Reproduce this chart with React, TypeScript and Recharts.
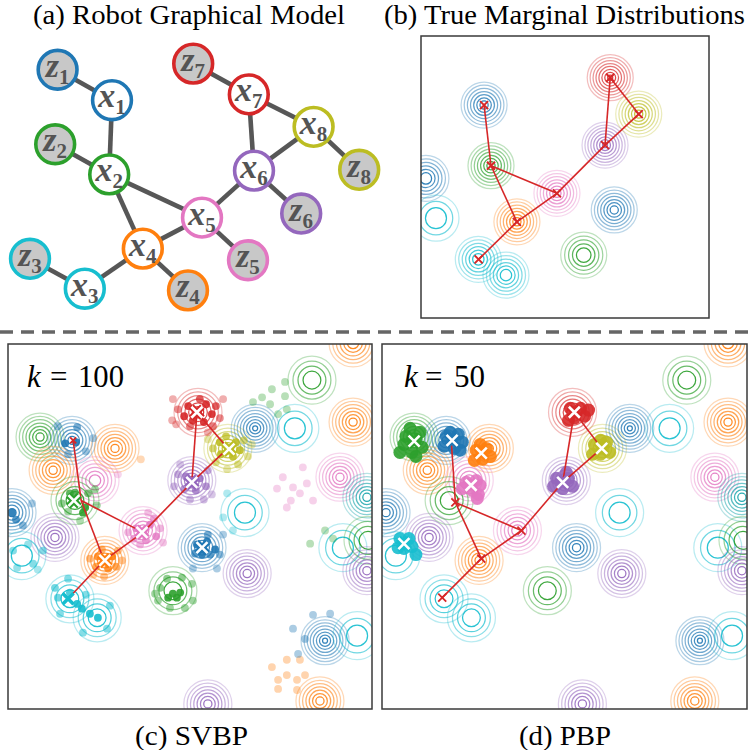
import React from 'react';
import { ScatterChart, Scatter, XAxis, YAxis } from 'recharts';

const SERIF = '"Times New Roman", Times, serif';

const PALETTE: Record<string, string> = {
  blue: '#1f77b4', orange: '#ff7f0e', green: '#2ca02c', red: '#d62728',
  purple: '#9467bd', pink: '#e377c2', olive: '#bcbd22', cyan: '#17becf', teal: '#15a3aa',
};
const VAR_COLOR: Record<string, string> = {
  x1: 'blue', x2: 'green', x3: 'cyan', x4: 'orange', x5: 'pink', x6: 'purple', x7: 'red', x8: 'olive',
};

// ---------- (a) graphical model ----------
const graphNodes = [
  { id: 'z1', x: 14.4, y: 13.7 }, { id: 'x1', x: 28.0, y: 24.2 },
  { id: 'z2', x: 13.8, y: 39.4 }, { id: 'x2', x: 27.3, y: 49.8 },
  { id: 'x5', x: 50.5, y: 64.7 }, { id: 'x4', x: 35.7, y: 75.4 },
  { id: 'z3', x: 7.5, y: 78.9 }, { id: 'x3', x: 21.2, y: 89.2 },
  { id: 'z4', x: 47.0, y: 89.8 }, { id: 'z5', x: 62.0, y: 79.4 },
  { id: 'z7', x: 48.3, y: 11.6 }, { id: 'x7', x: 62.2, y: 22.2 },
  { id: 'x8', x: 78.4, y: 33.4 }, { id: 'x6', x: 63.5, y: 48.5 },
  { id: 'z6', x: 75.3, y: 63.3 }, { id: 'z8', x: 89.8, y: 48.2 },
];
const graphEdges: [string, string][] = [
  ['z1', 'x1'], ['x1', 'x2'], ['z2', 'x2'], ['x2', 'x4'], ['x2', 'x5'], ['x4', 'x5'],
  ['x3', 'x4'], ['z3', 'x3'], ['x4', 'z4'], ['x5', 'z5'], ['x5', 'x6'], ['x6', 'z6'],
  ['x6', 'x7'], ['x6', 'x8'], ['x7', 'x8'], ['z7', 'x7'], ['x8', 'z8'],
];
const varEdges: [string, string][] = [
  ['x1', 'x2'], ['x2', 'x4'], ['x2', 'x5'], ['x3', 'x4'], ['x4', 'x5'],
  ['x5', 'x6'], ['x6', 'x7'], ['x6', 'x8'], ['x7', 'x8'],
];

// ---------- (b) true marginals ----------
const trueContours = [
  { c: 'blue', x: 21.9, y: 24.5, n: 7 }, { c: 'green', x: 24.3, y: 46.0, n: 7 },
  { c: 'orange', x: 33.3, y: 65.9, n: 7 }, { c: 'cyan', x: 19.9, y: 79.2, n: 6 },
  { c: 'cyan', x: 29.5, y: 84.8, n: 6 }, { c: 'pink', x: 47.2, y: 55.8, n: 7 },
  { c: 'purple', x: 63.9, y: 38.7, n: 8 }, { c: 'red', x: 65.7, y: 14.8, n: 8 },
  { c: 'olive', x: 75.6, y: 27.7, n: 7 }, { c: 'blue', x: 1.7, y: 50.5, n: 6 },
  { c: 'cyan', x: 5.2, y: 64.6, n: 3 }, { c: 'blue', x: 67.1, y: 61.7, n: 7 },
  { c: 'green', x: 56.5, y: 77.7, n: 5 },
];
const trueEstimates = [
  { id: 'x1', x: 21.9, y: 24.5 }, { id: 'x2', x: 24.3, y: 46.0 },
  { id: 'x3', x: 20.0, y: 79.2 }, { id: 'x4', x: 33.3, y: 65.9 },
  { id: 'x5', x: 47.2, y: 55.8 }, { id: 'x6', x: 63.9, y: 38.7 },
  { id: 'x7', x: 65.7, y: 14.8 }, { id: 'x8', x: 75.6, y: 27.7 },
];

// ---------- (c)/(d) shared marginal contours ----------
const marginalContours = [
  { c: 'green', x: 8.8, y: 25.5, n: 7 }, { c: 'blue', x: 17.6, y: 26.4, n: 7 },
  { c: 'orange', x: 29.4, y: 28.6, n: 7 }, { c: 'orange', x: 12.4, y: 34.6, n: 7 },
  { c: 'pink', x: 23.9, y: 37.4, n: 6 }, { c: 'green', x: 18.4, y: 42.9, n: 4 },
  { c: 'blue', x: 1.1, y: 46.2, n: 7 }, { c: 'purple', x: 12.9, y: 53.0, n: 7 },
  { c: 'cyan', x: 3.8, y: 58.0, n: 3 }, { c: 'orange', x: 26.6, y: 59.3, n: 7 },
  { c: 'pink', x: 37.1, y: 51.1, n: 6 }, { c: 'cyan', x: 17.0, y: 69.8, n: 4 },
  { c: 'cyan', x: 24.5, y: 75.0, n: 4 }, { c: 'green', x: 45.3, y: 67.6, n: 4 },
  { c: 'blue', x: 53.3, y: 55.8, n: 7 }, { c: 'purple', x: 65.7, y: 62.9, n: 7 },
  { c: 'cyan', x: 65.1, y: 46.2, n: 3 }, { c: 'purple', x: 50.5, y: 37.4, n: 7 },
  { c: 'red', x: 52.2, y: 18.7, n: 6 }, { c: 'olive', x: 60.4, y: 28.6, n: 6 },
  { c: 'blue', x: 67.9, y: 23.1, n: 8 }, { c: 'cyan', x: 78.8, y: 23.1, n: 3 },
  { c: 'green', x: 83.5, y: 9.9, n: 4 }, { c: 'orange', x: 94.8, y: 21.4, n: 7 },
  { c: 'orange', x: 94.8, y: -0.3, n: 6 }, { c: 'pink', x: 91.2, y: 36.5, n: 7 },
  { c: 'teal', x: 98.6, y: 42.0, n: 7 }, { c: 'cyan', x: 92.0, y: 55.8, n: 3 },
  { c: 'green', x: 98.9, y: 53.8, n: 4 }, { c: 'purple', x: 98.6, y: 62.1, n: 7 },
  { c: 'blue', x: 87.1, y: 81.3, n: 8 }, { c: 'cyan', x: 95.9, y: 79.9, n: 3 },
  { c: 'orange', x: 85.7, y: 97.8, n: 7 }, { c: 'purple', x: 54.9, y: 98.6, n: 7 },
];

// ---------- (c) SVBP ----------
const svbpEstimates = [
  { id: 'x1', x: 17.9, y: 26.4 }, { id: 'x2', x: 20.1, y: 42.9 },
  { id: 'x3', x: 16.5, y: 69.8 }, { id: 'x4', x: 26.4, y: 59.3 },
  { id: 'x5', x: 37.1, y: 51.6 }, { id: 'x6', x: 50.5, y: 37.9 },
  { id: 'x7', x: 51.9, y: 18.7 }, { id: 'x8', x: 60.4, y: 28.6 },
];
const svbpMeans = [
  { c: 'green', x: 18.1, y: 42.9 }, { c: 'orange', x: 26.6, y: 59.3 },
  { c: 'pink', x: 36.8, y: 51.6 }, { c: 'purple', x: 50.5, y: 37.9 },
  { c: 'red', x: 51.9, y: 18.7 }, { c: 'olive', x: 60.7, y: 28.8 },
  { c: 'blue', x: 53.3, y: 55.8 },
];
const svbpSolidMarks = [{ c: 'cyan', x: 16.5, y: 69.8 }];
const svbpRedMarks = [{ x: 17.9, y: 26.4 }];

const svbpBlue = [
  { x: 15.7, y: 27.2, w: 1 }, { x: 18.7, y: 26.9, w: 1 }, { x: 19.0, y: 22.8, w: 0.6 },
  { x: 13.7, y: 22.5, w: 0.4 }, { x: 23.4, y: 25.8, w: 0.3 }, { x: 16.5, y: 30.2, w: 0.4 },
  { x: 21.4, y: 29.4, w: 0.4 },
  { x: 51.9, y: 54.9, w: 1 }, { x: 54.7, y: 54.1, w: 1 }, { x: 56.9, y: 56.3, w: 1 },
  { x: 53.3, y: 57.7, w: 1 }, { x: 55.5, y: 57.7, w: 0.8 }, { x: 51.4, y: 57.4, w: 0.8 },
  { x: 54.9, y: 52.2, w: 0.6 }, { x: 58.2, y: 57.7, w: 0.5 }, { x: 50.8, y: 61.5, w: 0.3 },
  { x: 57.4, y: 61.5, w: 0.3 }, { x: 59.1, y: 52.2, w: 0.3 },
  { x: 1.1, y: 46.2, w: 1 }, { x: 2.2, y: 48.1, w: 0.8 }, { x: 4.1, y: 49.7, w: 0.5 },
  { x: 6.6, y: 43.7, w: 0.3 },
  { x: 83.8, y: 74.2, w: 0.3 }, { x: 88.5, y: 73.9, w: 0.3 }, { x: 78.3, y: 78.0, w: 0.3 },
  { x: 81.6, y: 80.8, w: 0.35 }, { x: 79.7, y: 84.9, w: 0.3 },
];
const svbpGreen = [
  { x: 17.0, y: 40.9, w: 0.8 }, { x: 22.0, y: 40.9, w: 0.6 }, { x: 21.2, y: 44.8, w: 1 },
  { x: 20.6, y: 46.2, w: 1 }, { x: 14.8, y: 43.7, w: 0.5 }, { x: 24.4, y: 44.2, w: 0.4 },
  { x: 18.4, y: 40.7, w: 0.8 }, { x: 23.9, y: 39.8, w: 0.4 }, { x: 16.5, y: 45.9, w: 0.4 },
  { x: 19.8, y: 48.4, w: 0.3 }, { x: 18.1, y: 42.9, w: 0.9 },
  { x: 45.3, y: 68.4, w: 1 }, { x: 47.3, y: 68.1, w: 1 }, { x: 44.0, y: 69.5, w: 1 },
  { x: 46.4, y: 69.5, w: 1 }, { x: 41.8, y: 66.8, w: 0.5 }, { x: 43.7, y: 64.3, w: 0.5 },
  { x: 47.8, y: 64.0, w: 0.5 }, { x: 50.5, y: 65.7, w: 0.4 }, { x: 50.8, y: 70.3, w: 0.4 },
  { x: 41.2, y: 70.3, w: 0.4 }, { x: 44.5, y: 72.3, w: 0.4 }, { x: 48.6, y: 72.3, w: 0.4 },
  { x: 40.4, y: 68.4, w: 0.4 },
  { x: 67.3, y: 15.9, w: 0.25 }, { x: 69.8, y: 14.6, w: 0.25 }, { x: 72.5, y: 12.4, w: 0.25 },
  { x: 76.1, y: 10.4, w: 0.25 }, { x: 76.1, y: 14.3, w: 0.25 }, { x: 76.6, y: 17.9, w: 0.25 },
  { x: 74.2, y: 19.2, w: 0.25 }, { x: 72.0, y: 16.5, w: 0.25 },
  { x: 87.1, y: 51.1, w: 0.25 }, { x: 89.3, y: 53.3, w: 0.25 }, { x: 83.0, y: 54.7, w: 0.25 },
];
const svbpRed = [
  { x: 52.2, y: 18.7, w: 1 }, { x: 49.5, y: 17.0, w: 1 }, { x: 54.4, y: 16.5, w: 1 },
  { x: 56.0, y: 19.2, w: 1 }, { x: 50.8, y: 20.9, w: 1 }, { x: 53.8, y: 21.4, w: 1 },
  { x: 48.4, y: 19.8, w: 1 }, { x: 57.1, y: 17.0, w: 0.8 }, { x: 52.7, y: 15.1, w: 0.8 },
  { x: 50.0, y: 22.5, w: 0.6 }, { x: 56.3, y: 22.5, w: 0.6 }, { x: 46.7, y: 17.9, w: 0.5 },
  { x: 58.2, y: 20.3, w: 0.5 }, { x: 46.2, y: 22.0, w: 0.3 }, { x: 59.1, y: 15.1, w: 0.3 },
  { x: 45.3, y: 15.1, w: 0.3 }, { x: 54.9, y: 24.2, w: 0.3 }, { x: 45.1, y: 20.9, w: 0.3 },
];
const svbpOlive = [
  { x: 60.4, y: 28.6, w: 1 }, { x: 58.2, y: 26.9, w: 1 }, { x: 62.6, y: 26.9, w: 1 },
  { x: 61.8, y: 30.8, w: 1 }, { x: 58.5, y: 30.2, w: 1 }, { x: 63.7, y: 29.1, w: 1 },
  { x: 59.9, y: 25.3, w: 0.8 }, { x: 64.8, y: 26.4, w: 0.6 }, { x: 56.3, y: 28.6, w: 0.6 },
  { x: 57.1, y: 32.4, w: 0.5 }, { x: 63.2, y: 33.0, w: 0.5 }, { x: 65.9, y: 30.8, w: 0.4 },
  { x: 60.2, y: 34.3, w: 0.3 }, { x: 67.0, y: 27.5, w: 0.3 }, { x: 54.9, y: 26.1, w: 0.3 },
];
const svbpPurple = [
  { x: 50.5, y: 37.9, w: 1 }, { x: 48.9, y: 36.3, w: 0.9 }, { x: 52.7, y: 36.8, w: 0.9 },
  { x: 51.6, y: 40.1, w: 0.8 }, { x: 48.4, y: 39.8, w: 0.7 }, { x: 54.4, y: 39.0, w: 0.7 },
  { x: 46.7, y: 35.7, w: 0.5 }, { x: 54.9, y: 34.6, w: 0.5 }, { x: 45.6, y: 39.0, w: 0.4 },
  { x: 50.0, y: 42.6, w: 0.4 }, { x: 53.8, y: 42.6, w: 0.4 }, { x: 56.0, y: 41.2, w: 0.3 },
  { x: 47.3, y: 33.0, w: 0.3 },
];
const svbpPink = [
  { x: 37.1, y: 51.6, w: 1 }, { x: 39.0, y: 49.5, w: 1 }, { x: 35.2, y: 50.5, w: 0.9 },
  { x: 40.7, y: 52.7, w: 0.9 }, { x: 37.9, y: 53.8, w: 0.8 }, { x: 34.6, y: 53.3, w: 0.7 },
  { x: 40.1, y: 47.8, w: 0.7 }, { x: 41.8, y: 50.5, w: 0.5 }, { x: 33.0, y: 51.6, w: 0.5 },
  { x: 36.3, y: 54.9, w: 0.5 }, { x: 42.6, y: 54.4, w: 0.4 }, { x: 38.5, y: 46.2, w: 0.4 },
  { x: 75.5, y: 36.5, w: 0.25 }, { x: 78.3, y: 39.3, w: 0.25 }, { x: 81.0, y: 33.8, w: 0.25 },
  { x: 83.8, y: 42.9, w: 0.25 }, { x: 76.6, y: 44.8, w: 0.25 }, { x: 73.9, y: 39.6, w: 0.25 },
  { x: 80.2, y: 40.9, w: 0.25 }, { x: 82.1, y: 38.2, w: 0.25 }, { x: 77.7, y: 42.9, w: 0.25 },
  { x: 30.2, y: 35.7, w: 0.2 },
];
const svbpOrange = [
  { x: 26.6, y: 59.3, w: 1 }, { x: 28.6, y: 58.2, w: 1 }, { x: 24.7, y: 58.2, w: 0.9 },
  { x: 27.5, y: 61.5, w: 0.9 }, { x: 29.7, y: 61.0, w: 0.7 }, { x: 24.2, y: 61.0, w: 0.7 },
  { x: 25.8, y: 56.3, w: 0.6 }, { x: 30.2, y: 56.6, w: 0.5 }, { x: 22.5, y: 58.8, w: 0.5 },
  { x: 26.4, y: 63.7, w: 0.4 }, { x: 31.3, y: 59.3, w: 0.4 }, { x: 23.4, y: 63.2, w: 0.3 },
  { x: 72.5, y: 88.5, w: 0.25 }, { x: 76.6, y: 86.5, w: 0.25 }, { x: 80.2, y: 86.5, w: 0.25 },
  { x: 74.2, y: 92.0, w: 0.25 }, { x: 76.6, y: 90.7, w: 0.25 }, { x: 79.4, y: 92.0, w: 0.25 },
  { x: 81.6, y: 90.7, w: 0.25 }, { x: 74.2, y: 94.5, w: 0.25 }, { x: 79.4, y: 94.8, w: 0.25 },
  { x: 36.5, y: 31.6, w: 0.2 },
];
const svbpCyan = [
  { x: 12.9, y: 66.8, w: 0.6 }, { x: 16.5, y: 64.3, w: 0.5 }, { x: 13.7, y: 69.5, w: 0.6 },
  { x: 19.0, y: 71.2, w: 1 }, { x: 20.3, y: 72.5, w: 1 }, { x: 22.5, y: 73.9, w: 1 },
  { x: 24.7, y: 75.0, w: 1 }, { x: 28.0, y: 71.7, w: 0.5 }, { x: 27.2, y: 78.0, w: 0.5 },
  { x: 20.6, y: 79.1, w: 0.5 }, { x: 14.3, y: 73.9, w: 0.5 }, { x: 17.0, y: 68.1, w: 0.8 },
  { x: 21.4, y: 68.7, w: 0.5 },
  { x: 1.4, y: 56.6, w: 0.5 }, { x: 6.9, y: 60.2, w: 0.5 }, { x: 9.6, y: 56.6, w: 0.5 },
  { x: 2.5, y: 61.3, w: 0.4 }, { x: 5.5, y: 54.9, w: 0.4 }, { x: 8.2, y: 61.8, w: 0.3 },
  { x: 60.2, y: 40.9, w: 0.25 }, { x: 59.1, y: 47.5, w: 0.25 }, { x: 61.8, y: 51.1, w: 0.25 },
];

// ---------- (d) PBP ----------
const pbpEstimates = [
  { id: 'x1', x: 19.0, y: 26.9 }, { id: 'x2', x: 20.1, y: 43.4 },
  { id: 'x3', x: 16.5, y: 69.5 }, { id: 'x4', x: 27.2, y: 58.8 },
  { id: 'x5', x: 38.2, y: 51.1 }, { id: 'x6', x: 49.5, y: 37.9 },
  { id: 'x7', x: 52.7, y: 18.7 }, { id: 'x8', x: 60.2, y: 28.6 },
];
const pbpMeans = [
  { c: 'green', x: 8.8, y: 26.6 }, { c: 'blue', x: 19.2, y: 26.4 },
  { c: 'orange', x: 27.2, y: 29.9 }, { c: 'pink', x: 24.4, y: 38.7 },
  { c: 'red', x: 52.7, y: 18.7 }, { c: 'olive', x: 60.2, y: 28.6 },
  { c: 'purple', x: 49.5, y: 37.9 }, { c: 'cyan', x: 6.0, y: 54.7 },
];
const pbpRedMarks = [
  { x: 20.1, y: 43.4 }, { x: 16.5, y: 69.5 }, { x: 27.2, y: 58.8 }, { x: 38.2, y: 51.1 },
];
const pbpGreen = [
  { x: 7.7, y: 23.1 }, { x: 6.0, y: 27.5 }, { x: 9.3, y: 26.1 }, { x: 11.0, y: 28.3 },
  { x: 8.2, y: 29.7 }, { x: 6.6, y: 25.3 }, { x: 10.4, y: 24.2 }, { x: 4.9, y: 29.7 },
  { x: 9.3, y: 30.8 },
];
const pbpBlue = [
  { x: 17.6, y: 25.3 }, { x: 20.9, y: 24.7 }, { x: 17.0, y: 28.0 }, { x: 19.8, y: 28.6 },
  { x: 22.0, y: 26.9 }, { x: 18.7, y: 24.2 }, { x: 21.4, y: 29.1 },
];
const pbpOrange = [
  { x: 25.8, y: 29.1 }, { x: 28.6, y: 28.6 }, { x: 27.5, y: 31.6 }, { x: 25.3, y: 31.9 },
  { x: 29.7, y: 30.8 }, { x: 26.9, y: 27.5 },
];
const pbpPink = [
  { x: 23.1, y: 37.9 }, { x: 25.8, y: 37.4 }, { x: 24.7, y: 40.1 }, { x: 22.0, y: 39.6 },
  { x: 26.4, y: 41.2 }, { x: 26.9, y: 38.7 }, { x: 26.1, y: 42.3 },
];
const pbpRed = [
  { x: 51.6, y: 17.6 }, { x: 54.4, y: 17.6 }, { x: 52.7, y: 20.3 }, { x: 55.5, y: 19.8 },
  { x: 51.1, y: 20.9 }, { x: 56.6, y: 18.1 },
];
const pbpOlive = [
  { x: 58.2, y: 27.5 }, { x: 61.5, y: 26.9 }, { x: 59.9, y: 30.2 }, { x: 57.7, y: 30.2 },
  { x: 62.4, y: 29.7 }, { x: 59.9, y: 26.4 },
];
const pbpPurple = [
  { x: 47.8, y: 36.8 }, { x: 51.1, y: 36.8 }, { x: 49.5, y: 39.6 }, { x: 47.0, y: 39.0 },
  { x: 52.2, y: 39.0 }, { x: 50.5, y: 35.2 },
];
const pbpCyan = [
  { x: 4.9, y: 53.3 }, { x: 7.4, y: 53.3 }, { x: 6.0, y: 56.0 }, { x: 8.2, y: 55.5 },
  { x: 4.4, y: 55.8 }, { x: 9.3, y: 57.7 },
];

// ---------- shapes ----------
const Empty = () => <g />;

const makeContour = (R: number) => (p: any) => {
  const { cx, cy, payload } = p;
  const col = PALETTE[payload.c];
  const n = payload.n;
  const rIn = 2.5 + (8 - n) * 1.6;
  const rings = [];
  for (let i = 0; i < n; i++) {
    const t = n === 1 ? 0 : i / (n - 1);
    rings.push(
      <circle key={i} cx={cx} cy={cy} r={rIn + (R - rIn) * t} fill="none" stroke={col}
        strokeWidth={1.25} strokeOpacity={0.92 - 0.62 * t} />
    );
  }
  return <g>{rings}</g>;
};

const makeDot = (col: string, r: number) => (p: any) => {
  const w = p.payload.w == null ? 1 : p.payload.w;
  return <circle cx={p.cx} cy={p.cy} r={r} fill={col} fillOpacity={0.15 + 0.75 * w} />;
};

const makeRedCross = (s: number, sw: number) => (p: any) => (
  <path d={`M${p.cx - s},${p.cy - s}L${p.cx + s},${p.cy + s}M${p.cx - s},${p.cy + s}L${p.cx + s},${p.cy - s}`}
    stroke="#d62728" strokeWidth={sw} fill="none" />
);

const WhiteX = (p: any) => {
  const s = 5.5;
  const d = `M${p.cx - s},${p.cy - s}L${p.cx + s},${p.cy + s}M${p.cx - s},${p.cy + s}L${p.cx + s},${p.cy - s}`;
  return (
    <g>
      <path d={d} stroke={PALETTE[p.payload.c]} strokeWidth={6.5} fill="none" />
      <path d={d} stroke="#ffffff" strokeWidth={2.6} fill="none" />
    </g>
  );
};

const SolidX = (p: any) => {
  const s = 5.5;
  const d = `M${p.cx - s},${p.cy - s}L${p.cx + s},${p.cy + s}M${p.cx - s},${p.cy + s}L${p.cx + s},${p.cy - s}`;
  return <path d={d} stroke={PALETTE[p.payload.c]} strokeWidth={3.5} fill="none" />;
};

const NodeShape = (p: any) => {
  const { cx, cy, payload } = p;
  const id: string = payload.id;
  const col = PALETTE[VAR_COLOR['x' + id.slice(1)]];
  const isZ = id[0] === 'z';
  return (
    <g>
      <circle cx={cx} cy={cy} r={19.4} fill={isZ ? '#c8c8c8' : '#ffffff'} stroke={col} strokeWidth={3.6} />
      <text x={cx} y={cy + 7} textAnchor="middle" style={{ fontFamily: SERIF }} fontStyle="italic"
        fontWeight="bold" fontSize={34} fill="#545454">
        {id[0]}
        <tspan fontSize={21} dy={7} fontStyle="normal">{id.slice(1)}</tspan>
      </text>
    </g>
  );
};

const pick = (pts: { id: string; x: number; y: number }[], a: string, b: string) =>
  [pts.find((q) => q.id === a)!, pts.find((q) => q.id === b)!];

const axes = (overflow: boolean) => [
  <XAxis key="xa" type="number" dataKey="x" domain={[0, 100]} hide allowDataOverflow={overflow} />,
  <YAxis key="ya" type="number" dataKey="y" domain={[0, 100]} hide reversed allowDataOverflow={overflow} />,
];

const margin0 = { top: 0, right: 0, bottom: 0, left: 0 };

function edgeSeries(pts: any[], edges: [string, string][], stroke: string, sw: number, prefix: string) {
  return edges.map(([a, b]) => (
    <Scatter key={prefix + a + b} data={pick(pts, a, b)} line={{ stroke, strokeWidth: sw }}
      shape={Empty} isAnimationActive={false} />
  ));
}

function ParticlePanel(props: {
  width: number; height: number;
  groups: { data: any[]; color: string }[]; r: number;
  estimates: any[]; means: any[]; solid: any[]; reds: any[]; redSize: number;
}) {
  const contour = makeContour(24);
  return (
    <ScatterChart width={props.width} height={props.height} margin={margin0}>
      {axes(true)}
      <Scatter data={marginalContours} shape={contour} isAnimationActive={false} />
      {props.groups.map((g, i) => (
        <Scatter key={'g' + i} data={g.data} shape={makeDot(PALETTE[g.color], props.r)} isAnimationActive={false} />
      ))}
      {edgeSeries(props.estimates, varEdges, '#d62728', 1.6, 'e')}
      <Scatter data={props.reds} shape={makeRedCross(props.redSize, 1.8)} isAnimationActive={false} />
      <Scatter data={props.solid} shape={SolidX} isAnimationActive={false} />
      <Scatter data={props.means} shape={WhiteX} isAnimationActive={false} />
    </ScatterChart>
  );
}

const titleStyle: React.CSSProperties = { fontFamily: SERIF, fontSize: 28 };
const mathStyle: React.CSSProperties = { fontFamily: SERIF, fontSize: 31 };
const mathItalic: React.CSSProperties = { fontFamily: SERIF, fontSize: 31, fontStyle: 'italic' };

export default function App() {
  const abs = (left: number, top: number): React.CSSProperties => ({ position: 'absolute', left, top });
  return (
    <div style={{ position: 'absolute', left: 0, top: 0, width: 748, height: 750, background: '#fff', overflow: 'hidden' }}>
      {/* (a) */}
      <div style={abs(0, 30)}>
        <ScatterChart width={400} height={290} margin={margin0}>
          {axes(false)}
          {edgeSeries(graphNodes, graphEdges, '#575757', 4.6, 'g')}
          <Scatter data={graphNodes} shape={NodeShape} isAnimationActive={false} />
        </ScatterChart>
      </div>
      {/* (b) */}
      <div style={abs(421, 36)}>
        <ScatterChart width={288} height={282} margin={margin0}>
          {axes(true)}
          <Scatter data={trueContours} shape={makeContour(23)} isAnimationActive={false} />
          {edgeSeries(trueEstimates, varEdges, '#d62728', 1.6, 'b')}
          <Scatter data={trueEstimates} shape={makeRedCross(4, 2)} isAnimationActive={false} />
        </ScatterChart>
      </div>
      {/* (c) */}
      <div style={abs(8, 344)}>
        <ParticlePanel width={364} height={365} r={3.9}
          groups={[
            { data: svbpCyan, color: 'cyan' }, { data: svbpOrange, color: 'orange' },
            { data: svbpPink, color: 'pink' }, { data: svbpBlue, color: 'blue' },
            { data: svbpGreen, color: 'green' }, { data: svbpPurple, color: 'purple' },
            { data: svbpOlive, color: 'olive' }, { data: svbpRed, color: 'red' },
          ]}
          estimates={svbpEstimates} means={svbpMeans} solid={svbpSolidMarks}
          reds={svbpRedMarks} redSize={3} />
      </div>
      {/* (d) */}
      <div style={abs(382, 344)}>
        <ParticlePanel width={365} height={365} r={6.5}
          groups={[
            { data: pbpGreen, color: 'green' }, { data: pbpBlue, color: 'blue' },
            { data: pbpOrange, color: 'orange' }, { data: pbpPink, color: 'pink' },
            { data: pbpRed, color: 'red' }, { data: pbpOlive, color: 'olive' },
            { data: pbpPurple, color: 'purple' }, { data: pbpCyan, color: 'cyan' },
          ]}
          estimates={pbpEstimates} means={pbpMeans} solid={[]}
          reds={pbpRedMarks} redSize={4} />
      </div>
      {/* frame, titles and separators */}
      <svg width={748} height={750} style={{ position: 'absolute', left: 0, top: 0, pointerEvents: 'none' }}>
        <text x={33} y={24} textLength={312} lengthAdjust="spacingAndGlyphs" style={titleStyle}>(a) Robot Graphical Model</text>
        <text x={384} y={24} textLength={361} lengthAdjust="spacingAndGlyphs" style={titleStyle}>(b) True Marginal Distributions</text>
        <text x={135} y={745} textLength={113} lengthAdjust="spacingAndGlyphs" style={titleStyle}>(c) SVBP</text>
        <text x={519} y={745} textLength={92} lengthAdjust="spacingAndGlyphs" style={titleStyle}>(d) PBP</text>
        <rect x={421} y={36} width={288} height={282} fill="none" stroke="#3a3a3a" strokeWidth={1.5} />
        <line x1={0} y1={332} x2={748} y2={332} stroke="#666" strokeWidth={3.5} strokeDasharray="13 8" />
        <rect x={8} y={344} width={364} height={365} fill="none" stroke="#3a3a3a" strokeWidth={1.5} />
        <rect x={382} y={344} width={365} height={365} fill="none" stroke="#3a3a3a" strokeWidth={1.5} />
        <text x={27} y={387} style={mathItalic}>k</text>
        <text x={50} y={387} style={mathStyle}>=</text>
        <text x={78} y={387} textLength={46} lengthAdjust="spacingAndGlyphs" style={mathStyle}>100</text>
        <text x={404} y={387} style={mathItalic}>k</text>
        <text x={425} y={387} style={mathStyle}>=</text>
        <text x={454} y={387} textLength={31} lengthAdjust="spacingAndGlyphs" style={mathStyle}>50</text>
      </svg>
    </div>
  );
}
